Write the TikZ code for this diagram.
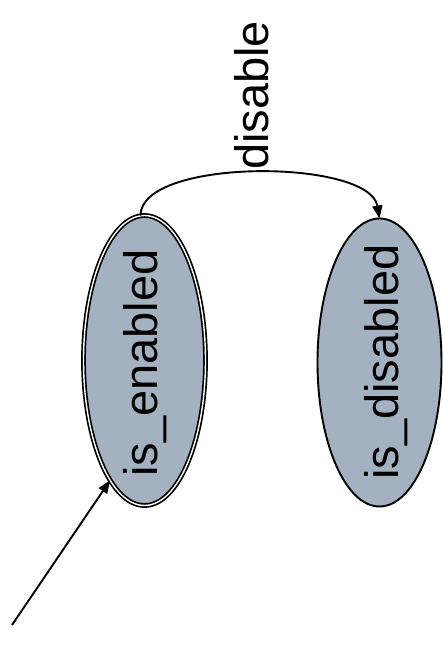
\documentclass[tikz,border=0pt]{standalone}
\usepackage{fontspec}
\setmainfont{Liberation Sans}
\usetikzlibrary{shapes.geometric,arrows.meta}
\definecolor{statefill}{RGB}{163,177,193}
\tikzset{
  state/.style={ellipse, draw=black, fill=statefill, line width=1.9pt, inner sep=0pt, outer sep=0pt},
  initstate/.style={state, line width=1.7pt, double=white, double distance=1.4pt},
  lbl/.style={rotate=90, inner sep=0pt, font=\fontsize{47}{56}\selectfont},
  edge/.style={line width=1.9pt, -{Triangle[length=13pt,width=10pt]}}
}
\begin{document}
\begin{tikzpicture}[x=1pt,y=-1pt]
\useasboundingbox (0,0) rectangle (443,645);
\node[initstate, minimum width=122pt, minimum height=290pt] (en) at (144.5,360.5) {};
\node[state, minimum width=124pt, minimum height=288pt] (dis) at (379.5,362.5) {};
\node[lbl, anchor=base west] (ten) at (157,477) {is\_enabled};
\node[lbl, anchor=base west] (tdis) at (398,480) {is\_disabled};
\coordinate (init) at (12,625);
\draw[edge] ([xshift=-4pt]en.north) .. controls +(0,-58) and +(-10,-60) .. (dis.north);
\node[lbl, anchor=base west] (tlab) at (268,170) {disable};
\draw[edge] (init) -- (en.254);
\end{tikzpicture}
\end{document}
